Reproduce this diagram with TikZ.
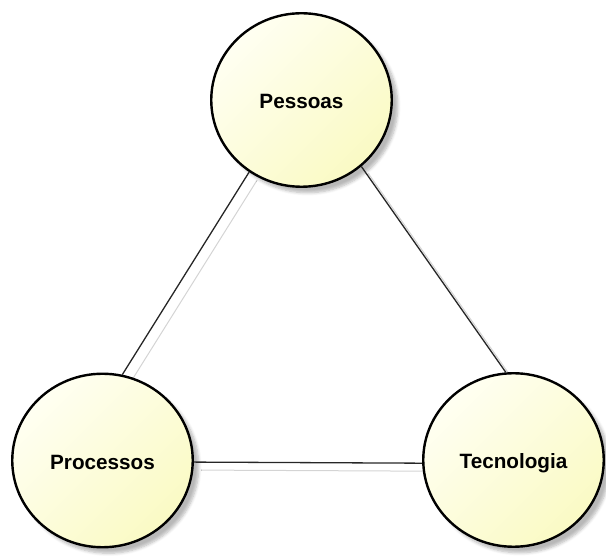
\documentclass[tikz,border=0pt]{standalone}
\usepackage{fontspec}
\setmainfont{Liberation Sans}
\usetikzlibrary{shapes.geometric,shadows.blur,calc,backgrounds}
\definecolor{fillhi}{RGB}{255,255,242}
\definecolor{filllo}{RGB}{250,250,196}
\definecolor{linkgrey}{RGB}{212,212,212}
\tikzset{
  topic/.style={ellipse, draw=black, line width=2.4pt,
    minimum width=180.5pt, minimum height=173.5pt, inner sep=0pt,
    top color=fillhi, bottom color=filllo, shading angle=45,
    blur shadow={shadow xshift=6pt, shadow yshift=-6pt,
      shadow blur radius=3pt, shadow blur steps=6, shadow opacity=28}},
  topiclabel/.style={font=\fontsize{20.7}{24}\selectfont\bfseries,
    inner sep=0pt, text height=15pt, text depth=4.5pt, yshift=-3.5pt},
  link/.style={line width=1.3pt, draw=black!85},
  linkshade/.style={line width=1pt, draw=linkgrey},
}
\begin{document}
\begin{tikzpicture}[x=1pt, y=1pt]
  \useasboundingbox (0,0) rectangle (606,557);
  % the three topics
  \node[topic] (pes) at (301.5,457)  {};
  \node[topic] (pro) at (102.5,96.5) {};
  \node[topic] (tec) at (513.5,97)   {};
  \node[topiclabel] (pesl) at (pes.center) {Pessoas};
  \node[topiclabel] (prol) at (pro.center) {Processos};
  \node[topiclabel] (tecl) at (tec.center) {Tecnologia};
  % faint offset copies of the links, kept behind the topics
  \begin{scope}[on background layer]
    \draw[linkshade] ($(pes.234)+(8,-8)$) -- ($(pro.77.5)+(8,-8)$);
    \draw[linkshade] ($(pes.312)+(7,-7)$) -- ($(tec.95)+(7,-7)$);
    \draw[linkshade] ($(pro.-1.5)+(7,-8)$) -- ($(tec.182)+(7,-8)$);
  \end{scope}
  % links between the topics
  \draw[link] (pes.234) -- (pro.77.5);
  \draw[link] (pes.312) -- (tec.95);
  \draw[link] (pro.-1.5) -- (tec.182);
\end{tikzpicture}
\end{document}
